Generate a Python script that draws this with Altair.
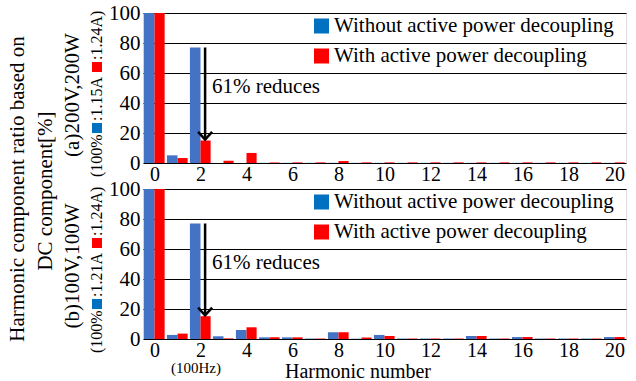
import altair as alt
import pandas as pd

FONT = "Liberation Serif"

harmonics = list(range(21))
# (a) 200V, 200W
a_without = [100, 5.1, 77, 0, 0, 0.1, 0.1, 0.1, 0.1, 0.1, 0.1, 0.1, 0.1, 0.1, 0.1, 0.1, 0.1, 0.1, 0.1, 0.1, 0.1]
a_with = [100, 3.3, 15, 1.5, 6.7, 0.4, 0.4, 0.4, 1.3, 0.4, 0.4, 0.4, 0.4, 0.4, 0.4, 0.4, 0.4, 0.4, 0.4, 0.4, 0.4]
# (b) 100V, 100W
b_without = [100, 2.7, 77, 1.8, 6.0, 1.1, 1.1, 0.3, 4.5, 0.2, 2.7, 0.3, 0.3, 0.3, 2.0, 0.3, 1.3, 0.3, 0.3, 0.3, 1.3]
b_with = [100, 3.6, 15.2, 0.4, 7.8, 1.1, 1.1, 0.3, 4.5, 1.0, 2.0, 0.3, 0.3, 0.3, 2.0, 0.3, 1.3, 0.3, 0.3, 0.3, 1.3]

series_keys = ["without", "with"]
series_names = ["Without active power decoupling", "With active power decoupling"]
bar_colors = ["#4472C4", "#FF0000"]
mark_colors = ["#0070C0", "#FF0000"]
x_ticks = list(range(0, 21, 2))
y_ticks = [0, 20, 40, 60, 80, 100]

xscale = alt.Scale(domain=[-0.5, 20.5], nice=False, zero=False)
yscale = alt.Scale(domain=[0, 100], nice=False, zero=True)
x_axis = alt.Axis(values=x_ticks, grid=False, ticks=False, domain=False, labelFont=FONT,
                  labelFontSize=20, labelPadding=1, labelColor="black", title=None)
y_axis = alt.Axis(values=y_ticks, grid=True, gridColor="black", gridWidth=1, ticks=False,
                  domain=False, labelFont=FONT, labelFontSize=21, labelPadding=3,
                  labelColor="black", title=None)


def label(text, x, y, size, align="center", angle=0, color="black", baseline="middle"):
    return alt.Chart(pd.DataFrame({"t": [text]})).mark_text(
        font=FONT, fontSize=size, align=align, baseline=baseline, angle=angle, color=color
    ).encode(text="t:N", x=alt.value(x), y=alt.value(y))


def square(x, y, size, color):
    return alt.Chart(pd.DataFrame({"t": [0]})).mark_square(
        size=size, color=color, opacity=1, filled=True
    ).encode(x=alt.value(x), y=alt.value(y))


def panel(without, with_, cond, cur_blue, cur_red, arrow_top, arrow_bottom, y_cond, bottom):
    df = pd.DataFrame({
        "h": harmonics * 2,
        "s": [series_keys[0]] * len(harmonics) + [series_keys[1]] * len(harmonics),
        "value": without + with_,
    })
    bars = alt.Chart(df).transform_calculate(
        x0="datum.s == 'without' ? datum.h - 0.46 : datum.h",
        x1="datum.s == 'without' ? datum.h : datum.h + 0.44",
        base="0",
    ).mark_bar().encode(
        x=alt.X("x0:Q", scale=xscale, axis=x_axis),
        x2="x1:Q",
        y=alt.Y("value:Q", scale=yscale, axis=y_axis),
        y2="base:Q",
        color=alt.Color("s:N", scale=alt.Scale(domain=series_keys, range=bar_colors), legend=None),
    )
    arrow_df = pd.DataFrame({"x": [2.2], "top": [arrow_top], "bottom": [arrow_bottom + 0.6]})
    shaft = alt.Chart(arrow_df).mark_rule(color="black", strokeWidth=2.5).encode(
        x=alt.X("x:Q", scale=xscale, axis=x_axis),
        y=alt.Y("top:Q", scale=yscale, axis=y_axis),
        y2="bottom:Q",
    )
    head = alt.Chart(arrow_df).mark_point(
        shape="M-1,-1.1L0,0L1,-1.1", size=196, filled=False, color="black",
        strokeWidth=2.5, opacity=1
    ).encode(
        x=alt.X("x:Q", scale=xscale, axis=x_axis),
        y=alt.Y("bottom:Q", scale=yscale, axis=y_axis),
    )
    ann_df = pd.DataFrame({"x": [2.5], "y": [50.5], "t": ["61% reduces"]})
    ann = alt.Chart(ann_df).mark_text(font=FONT, fontSize=21, align="left", baseline="middle",
                                      color="black").encode(
        x=alt.X("x:Q", scale=xscale, axis=x_axis),
        y=alt.Y("y:Q", scale=yscale, axis=y_axis),
        text="t:N",
    )
    layers = [bars, shaft, head, ann,
              square(178.5, 13, 225, mark_colors[0]), label(series_names[0], 191, 13, 21, align="left"),
              square(178.5, 43, 225, mark_colors[1]), label(series_names[1], 191, 43, 21, align="left"),
              label(cond, -70, y_cond, 21, angle=270),
              label("(100%", -46, 164, 16, align="left", angle=270),
              square(-46, 115, 100, mark_colors[0]),
              label(":" + cur_blue, -46, 108, 16, align="left", angle=270),
              square(-46, 54, 100, mark_colors[1]),
              label(":" + cur_red + ")", -46, 47, 16, align="left", angle=270)]
    if bottom:
        layers += [label("Harmonic number", 215, 182.5, 20),
                   label("(100Hz)", 53, 178.5, 15)]
    else:
        layers += [label("Harmonic component ratio based on", -125, 176, 21, angle=270),
                   label("DC component[%]", -97, 178, 21, angle=270),
                   alt.Chart(pd.DataFrame({"t": [0]})).mark_rule(strokeOpacity=0, color="white").encode(
                       x=alt.value(-142), x2=alt.value(-140), y=alt.value(-12))]
    return alt.layer(*layers).properties(width=483, height=150)


top = panel(a_without, a_with, "(a)200V,200W", "1.15A", "1.24A", 77, 15, 82, False)
bot = panel(b_without, b_with, "(b)100V,100W", "1.21A", "1.24A", 77, 15.2, 77, True)

chart = alt.vconcat(top, bot, spacing=26, bounds="flush").properties(
    padding={"left": 0, "top": 0, "right": 5, "bottom": 0}
).configure_view(stroke="black", strokeWidth=1.5).configure(background="white", font=FONT)

chart.save("out.html", embed_options={"renderer": "svg", "actions": False})
